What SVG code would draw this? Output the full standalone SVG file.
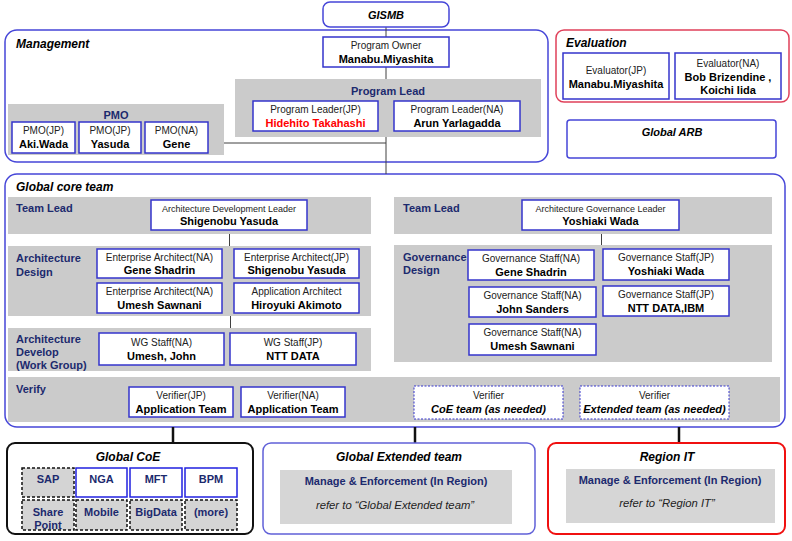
<svg xmlns="http://www.w3.org/2000/svg" width="792" height="541" viewBox="0 0 792 541">
<style>
text{font-family:"Liberation Sans",Arial,sans-serif;fill:#000}
.panel{fill:#fff;stroke:#4646d8;stroke-width:1.5}
.gray{fill:#cbcbcb;stroke:none}
.lgray{fill:#d6d6d6;stroke:none}
.box{fill:#fff;stroke:#3434cc;stroke-width:1.5}
.dbox{fill:#fff;stroke:#3434cc;stroke-width:1;stroke-dasharray:2,1.5}
.cell{fill:#d4d4d4;stroke:#111;stroke-width:1.5;stroke-dasharray:3,2}
.title{font-size:12px;font-weight:bold;font-style:italic}
.sec{font-size:11px;font-weight:bold;fill:#1c2a6e}
.r{font-size:10px;fill:#222}
.s{font-size:9px;fill:#222}
.b{font-size:11px;font-weight:bold}
.bi{font-size:11px;font-weight:bold;font-style:italic}
.ref{font-size:11.3px;font-style:italic;fill:#222}
.m{text-anchor:middle}
.ln{stroke:#404040;stroke-width:1;fill:none}
.lk{stroke:#111;stroke-width:2.5;fill:none}
</style>

<!-- panels -->
<g id="management">
<rect class="panel" x="5" y="30" width="543" height="132" rx="12"/>
<text class="title" x="16" y="48">Management</text>
</g>
<g id="global-core-team">
<rect class="panel" x="5" y="174" width="780" height="253" rx="12"/>
<text class="title" x="16" y="191">Global core team</text>
</g>

<g id="connectors">
<line class="ln" x1="386" y1="27" x2="386" y2="174"/>
<line class="ln" x1="224" y1="143" x2="386" y2="143"/>
<line class="ln" x1="229.5" y1="234" x2="229.5" y2="246"/>
<line class="ln" x1="230.5" y1="316" x2="230.5" y2="328"/>
<line class="ln" x1="601.5" y1="234" x2="601.5" y2="245"/>
<line class="lk" x1="173" y1="427" x2="173" y2="443"/>
<line class="lk" x1="415" y1="427" x2="415" y2="443"/>
<line class="lk" x1="679" y1="427" x2="679" y2="443"/>
</g>

<g id="gismb">
<rect x="323" y="2" width="126" height="25" rx="7" fill="#fff" stroke="#4646d8" stroke-width="1.5"/>
<text class="bi m" x="386" y="19">GISMB</text>
</g>

<g id="program-owner">
<rect class="box" x="323" y="37" width="126" height="30"/>
<text class="r m" x="386" y="49">Program Owner</text>
<text class="b m" x="386" y="63">Manabu.Miyashita</text>
</g>

<g id="program-lead">
<rect class="gray" x="235" y="79" width="306" height="58"/>
<text class="sec m" x="388" y="95">Program Lead</text>
</g>
<g id="program-leader-jp">
<rect class="box" x="253" y="101" width="125" height="30"/>
<text class="r m" x="315.5" y="113">Program Leader(JP)</text>
<text class="b m" x="315.5" y="127" style="fill:#f00">Hidehito Takahashi</text>
</g>
<g id="program-leader-na">
<rect class="box" x="394" y="101" width="126" height="30"/>
<text class="r m" x="457" y="113">Program Leader(NA)</text>
<text class="b m" x="457" y="127">Arun Yarlagadda</text>
</g>

<g id="pmo">
<rect class="gray" x="8" y="104" width="216" height="51"/>
<text class="sec m" x="116" y="119">PMO</text>
</g>
<g id="pmo-jp-wada">
<rect class="box" x="12" y="122" width="63" height="31"/>
<text class="r m" x="43.5" y="134">PMO(JP)</text>
<text class="b m" x="43.5" y="148">Aki.Wada</text>
</g>
<g id="pmo-jp-yasuda">
<rect class="box" x="79" y="122" width="62" height="31"/>
<text class="r m" x="110" y="134">PMO(JP)</text>
<text class="b m" x="110" y="148">Yasuda</text>
</g>
<g id="pmo-na-gene">
<rect class="box" x="145" y="122" width="63" height="31"/>
<text class="r m" x="176.5" y="134">PMO(NA)</text>
<text class="b m" x="176.5" y="148">Gene</text>
</g>

<g id="evaluation">
<rect x="556" y="30" width="233" height="72" rx="8" fill="#fff" stroke="#e0405a" stroke-width="1.5"/>
<text class="title" x="566" y="47">Evaluation</text>
</g>
<g id="evaluator-jp">
<rect class="box" x="563" y="53" width="106" height="46"/>
<text class="r m" x="616" y="74">Evaluator(JP)</text>
<text class="b m" x="616" y="88">Manabu.Miyashita</text>
</g>
<g id="evaluator-na">
<rect class="box" x="675" y="53" width="106" height="46"/>
<text class="r m" x="728" y="67">Evaluator(NA)</text>
<text class="b m" x="728" y="81">Bob Brizendine ,</text>
<text class="b m" x="728" y="94">Koichi Iida</text>
</g>

<g id="global-arb">
<rect x="567" y="120" width="209" height="38" rx="3" fill="#fff" stroke="#4646d8" stroke-width="1.5"/>
<text class="bi m" x="672" y="136">Global ARB</text>
</g>

<!-- core team left -->
<g id="team-lead-left">
<rect class="gray" x="8" y="197" width="363" height="37"/>
<text class="sec" x="16" y="212">Team Lead</text>
</g>
<g id="arch-dev-leader">
<rect class="box" x="151" y="200" width="156" height="30"/>
<text class="s m" x="229" y="212">Architecture Development Leader</text>
<text class="b m" x="229" y="225">Shigenobu Yasuda</text>
</g>

<g id="architecture-design">
<rect class="gray" x="8" y="246" width="363" height="70"/>
<text class="sec" x="16" y="262">Architecture</text>
<text class="sec" x="16" y="276">Design</text>
</g>
<g id="ea-na-gene">
<rect class="box" x="97" y="249" width="125" height="29"/>
<text class="r m" x="159.5" y="261">Enterprise Architect(NA)</text>
<text class="b m" x="159.5" y="274">Gene Shadrin</text>
</g>
<g id="ea-jp-yasuda">
<rect class="box" x="234" y="249" width="125" height="29"/>
<text class="r m" x="296.5" y="261">Enterprise Architect(JP)</text>
<text class="b m" x="296.5" y="274">Shigenobu Yasuda</text>
</g>
<g id="ea-na-umesh">
<rect class="box" x="97" y="283" width="125" height="30"/>
<text class="r m" x="159.5" y="295">Enterprise Architect(NA)</text>
<text class="b m" x="159.5" y="309">Umesh Sawnani</text>
</g>
<g id="app-architect">
<rect class="box" x="234" y="283" width="125" height="30"/>
<text class="r m" x="296.5" y="295">Application Architect</text>
<text class="b m" x="296.5" y="309">Hiroyuki Akimoto</text>
</g>

<g id="architecture-develop">
<rect class="gray" x="8" y="328" width="363" height="43"/>
<text class="sec" x="16" y="343">Architecture</text>
<text class="sec" x="16" y="356">Develop</text>
<text class="sec" x="16" y="369">(Work Group)</text>
</g>
<g id="wg-na">
<rect class="box" x="99" y="333" width="125" height="32"/>
<text class="r m" x="161.5" y="346">WG Staff(NA)</text>
<text class="b m" x="161.5" y="360">Umesh, John</text>
</g>
<g id="wg-jp">
<rect class="box" x="230" y="333" width="126" height="32"/>
<text class="r m" x="293" y="346">WG Staff(JP)</text>
<text class="b m" x="293" y="360">NTT DATA</text>
</g>

<!-- core team right -->
<g id="team-lead-right">
<rect class="gray" x="394" y="197" width="378" height="37"/>
<text class="sec" x="403" y="212">Team Lead</text>
</g>
<g id="arch-gov-leader">
<rect class="box" x="522" y="200" width="157" height="30"/>
<text class="s m" x="600.5" y="212">Architecture Governance Leader</text>
<text class="b m" x="600.5" y="225">Yoshiaki Wada</text>
</g>

<g id="governance-design">
<rect class="gray" x="394" y="245" width="378" height="117"/>
<text class="sec" x="403" y="261">Governance</text>
<text class="sec" x="403" y="274">Design</text>
</g>
<g id="gs-na-gene">
<rect class="box" x="468" y="250" width="126" height="30"/>
<text class="r m" x="531" y="262">Governance Staff(NA)</text>
<text class="b m" x="531" y="276">Gene Shadrin</text>
</g>
<g id="gs-jp-wada">
<rect class="box" x="603" y="249" width="126" height="31"/>
<text class="r m" x="666" y="261">Governance Staff(JP)</text>
<text class="b m" x="666" y="275">Yoshiaki Wada</text>
</g>
<g id="gs-na-john">
<rect class="box" x="469" y="287" width="127" height="30"/>
<text class="r m" x="532.5" y="299">Governance Staff(NA)</text>
<text class="b m" x="532.5" y="313">John Sanders</text>
</g>
<g id="gs-jp-ntt">
<rect class="box" x="603" y="286" width="126" height="30"/>
<text class="r m" x="666" y="298">Governance Staff(JP)</text>
<text class="b m" x="666" y="312">NTT DATA,IBM</text>
</g>
<g id="gs-na-umesh">
<rect class="box" x="469" y="324" width="127" height="31"/>
<text class="r m" x="532.5" y="336">Governance Staff(NA)</text>
<text class="b m" x="532.5" y="350">Umesh Sawnani</text>
</g>

<!-- verify -->
<g id="verify">
<rect class="gray" x="8" y="377" width="772" height="45"/>
<text class="sec" x="16" y="393">Verify</text>
</g>
<g id="verifier-jp">
<rect class="box" x="129" y="387" width="104" height="30"/>
<text class="r m" x="181" y="399">Verifier(JP)</text>
<text class="b m" x="181" y="413">Application Team</text>
</g>
<g id="verifier-na">
<rect class="box" x="241" y="387" width="104" height="30"/>
<text class="r m" x="293" y="399">Verifier(NA)</text>
<text class="b m" x="293" y="413">Application Team</text>
</g>
<g id="verifier-coe">
<rect class="dbox" x="414" y="386" width="149" height="33"/>
<text class="r m" x="488.5" y="399">Verifier</text>
<text class="bi m" x="488.5" y="413">CoE team (as needed)</text>
</g>
<g id="verifier-extended">
<rect class="dbox" x="580" y="386" width="149" height="33"/>
<text class="r m" x="654.5" y="399">Verifier</text>
<text class="bi m" x="654.5" y="413">Extended team (as needed)</text>
</g>

<!-- bottom -->
<g id="global-coe">
<rect x="7" y="443" width="246" height="91" rx="8" fill="#fff" stroke="#111" stroke-width="2"/>
<text class="title m" x="128" y="461">Global CoE</text>
<rect class="cell" x="22" y="468" width="52" height="29"/>
<rect class="box" x="76" y="468" width="51" height="29" style="stroke:#2020e0"/>
<rect class="box" x="130" y="468" width="52" height="29" style="stroke:#2020e0"/>
<rect class="box" x="185" y="468" width="52" height="29" style="stroke:#2020e0"/>
<rect class="cell" x="22" y="500" width="52" height="30"/>
<rect class="cell" x="76" y="500" width="51" height="30"/>
<rect class="cell" x="130" y="500" width="52" height="30"/>
<rect class="cell" x="185" y="500" width="52" height="30"/>
<text class="sec m" x="48" y="483">SAP</text>
<text class="sec m" x="101.5" y="483">NGA</text>
<text class="sec m" x="156" y="483">MFT</text>
<text class="sec m" x="211" y="483">BPM</text>
<text class="sec m" x="48" y="516">Share</text>
<text class="sec m" x="48" y="529">Point</text>
<text class="sec m" x="101.5" y="516">Mobile</text>
<text class="sec m" x="156" y="516">BigData</text>
<text class="sec m" x="211" y="516">(more)</text>
</g>

<g id="global-extended-team">
<rect x="263" y="443" width="272" height="91" rx="8" fill="#fff" stroke="#6060d8" stroke-width="1.5"/>
<text class="title m" x="399" y="461">Global Extended team</text>
<rect class="lgray" x="280" y="470" width="232" height="54"/>
<text class="sec m" x="396" y="485">Manage &amp; Enforcement (In Region)</text>
<text class="ref m" x="395" y="509">refer to “Global Extended team”</text>
</g>

<g id="region-it">
<rect x="548" y="443" width="237" height="91" rx="8" fill="#fff" stroke="#f01010" stroke-width="2"/>
<text class="title m" x="667" y="461">Region IT</text>
<rect class="lgray" x="566" y="469" width="209" height="54"/>
<text class="sec m" x="670" y="484">Manage &amp; Enforcement (In Region)</text>
<text class="ref m" x="667" y="507">refer to “Region IT”</text>
</g>
</svg>
